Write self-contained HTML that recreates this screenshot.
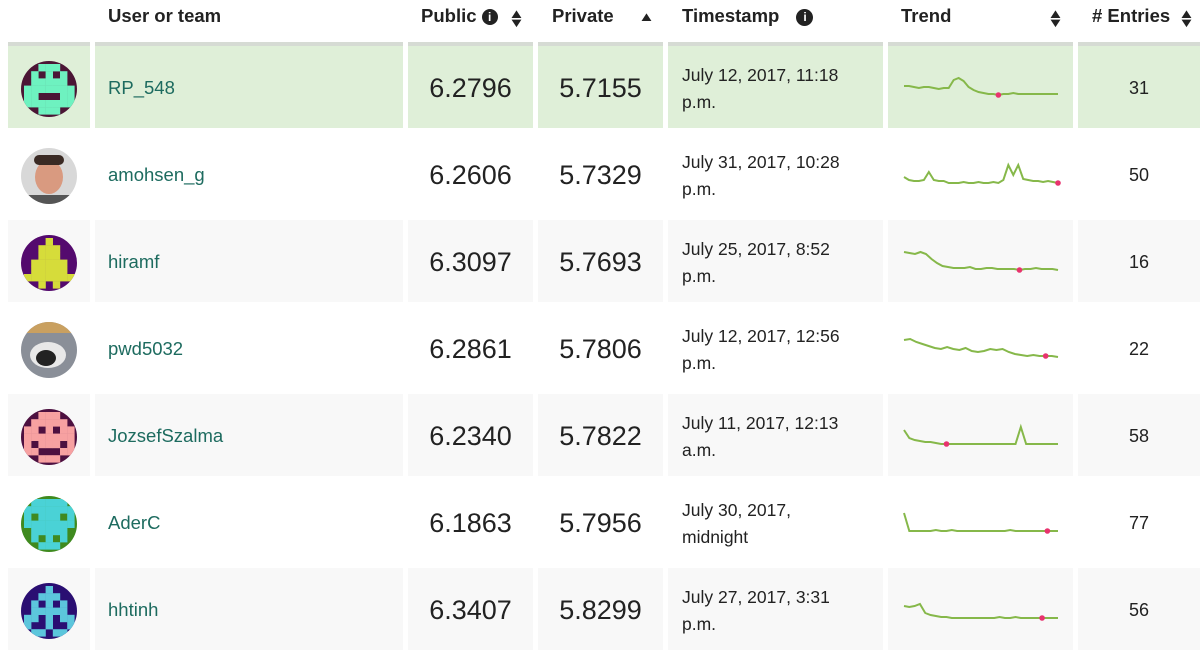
<!DOCTYPE html>
<html><head><meta charset="utf-8">
<style>
body{margin:0;width:1200px;height:662px;overflow:hidden;background:#fff;font-family:"Liberation Sans",sans-serif;position:relative;color:#222}
.h{position:absolute;top:5px;font-size:18.5px;font-weight:bold;color:#222;white-space:nowrap}
.c{position:absolute;box-sizing:border-box}
.name{font-size:18.5px;color:#1d6b5f;position:absolute;left:108px}
.num{font-size:27px;text-align:center;color:#222;position:absolute}
.ts{font-size:17.5px;line-height:27px;position:absolute;left:682px;color:#222}
.ent{font-size:18px;position:absolute;left:1078px;width:122px;text-align:center}
.srt{position:absolute;top:9px;font-size:13px;line-height:9px;transform:scaleX(1.3)}
</style></head><body>
<div class="h" style="left:108px">User or team</div>
<div class="h" style="left:421px">Public <span style="display:inline-block;width:16px;height:16px;border-radius:50%;background:#222;color:#fff;font-size:12px;text-align:center;line-height:16px;vertical-align:1px">i</span></div>
<div class="srt" style="left:510px">&#9650;<br>&#9660;</div>
<div class="h" style="left:552px">Private</div>
<div class="srt" style="left:640px;top:12px">&#9650;</div>
<div class="h" style="left:682px">Timestamp <span style="display:inline-block;width:17px;height:17px;border-radius:50%;background:#222;color:#fff;font-size:12px;text-align:center;line-height:17px;margin-left:12px;vertical-align:1px">i</span></div>
<div class="h" style="left:901px">Trend</div>
<div class="srt" style="left:1049px">&#9650;<br>&#9660;</div>
<div class="h" style="left:1092px"># Entries</div>
<div class="srt" style="left:1180px">&#9650;<br>&#9660;</div>
<div id="rows"></div>
<script>
const names=["RP_548","amohsen_g","hiramf","pwd5032","JozsefSzalma","AderC","hhtinh"];
const publicScores=["6.2796","6.2606","6.3097","6.2861","6.2340","6.1863","6.3407"];
const privateScores=["5.7155","5.7329","5.7693","5.7806","5.7822","5.7956","5.8299"];
const stamp1=["July 12, 2017, 11:18","July 31, 2017, 10:28","July 25, 2017, 8:52","July 12, 2017, 12:56","July 11, 2017, 12:13","July 30, 2017,","July 27, 2017, 3:31"];
const stamp2=["p.m.","p.m.","p.m.","p.m.","a.m.","midnight","p.m."];
const entries=["31","50","16","22","58","77","56"];
// trend values (height units above each row's baseline)
const trend0=[9,9,8,7,8,8,7,6,7,7,15,17,14,8,5,3,2,1,1,0,1,1,2,1,1,1,1,1,1,1,1,1];
const trend1=[6,3,2,2,3,11,3,2,2,0,0,0,1,0,0,1,0,0,1,0,3,18,8,18,4,3,2,2,1,2,1,0];
const trend2=[18,17,16,18,16,11,7,4,3,2,2,2,3,1,1,2,2,1,1,1,1,0,1,1,2,1,1,1,0];
const trend3=[17,18,15,13,11,9,8,10,8,7,9,6,5,6,8,7,8,5,3,2,1,2,1,1,1,0];
const trend4=[14,6,4,3,2,2,1,0,0,0,0,0,0,0,0,0,0,0,0,0,0,0,17,0,0,0,0,0,0,0];
const trend5=[18,0,0,0,0,0,1,0,0,1,0,0,0,0,0,0,0,0,0,0,1,0,0,0,0,0,0,0,0,0];
const trend6=[12,11,12,14,5,3,2,1,1,0,0,0,0,0,0,0,0,0,1,0,0,1,0,0,0,0,0,0,0,0];
const trends=[trend0,trend1,trend2,trend3,trend4,trend5,trend6];
const bestIdx=[19,31,21,23,8,27,26];
const avatarColors=[["#4b1535","#6ef2c0"],null,["#540a6e","#d6dc3a"],null,["#4d1040","#f7a1a1"],["#3f8a1f","#4ad2d6"],["#2a0e72","#5cc6dc"]];
const root=document.getElementById('rows');
const NS="http://www.w3.org/2000/svg";
function rowTop(i){return 42+87*i;}
function sx(j,n){return 904+154*j/(n-1);}
function sy(v,base){return base-v;}
for(let i=0;i<7;i++){
  const t=rowTop(i), cy=t+47;
  const bg=i===0?"#dfefd8":(i%2===0?"#f8f8f8":"#fff");
  const cols=[[8,82],[95,308],[408,125],[538,125],[668,215],[888,185],[1078,122]];
  cols.forEach(([x,w])=>{
    const d=document.createElement('div');d.className='c';
    
    
    d.style.cssText=`left:${x}px;top:${t+(i===0?0:4)}px;width:${w}px;height:${i===0?86:82}px;background:${bg};${i===0?'border-top:4px solid #d6dbd4':''}`;
    root.appendChild(d);
  });
  const av=document.createElementNS(NS,'svg');
  
  
  av.setAttribute('width','58');av.setAttribute('height','58');
  av.style.cssText=`position:absolute;left:20px;top:${cy-29}px`;
  const ac=avatarColors[i];
  let inner='<defs><clipPath id="cp'+i+'"><circle cx="29" cy="29" r="28"/></clipPath></defs>';
  if(ac){
    inner+=`<g clip-path="url(#cp${i})"><rect width="58" height="58" fill="${ac[0]}"/>`;
    const pats=[
      ["0011100","0101010","0111110","1111111","1100011","1111111","0011100"],
      null,
      ["0001000","0011100","0011100","0111110","0111110","1111111","0010100"],
      null,
      ["0011100","0111110","1101011","1111111","1011101","1100011","0011100"],
      ["0111110","1111111","1011101","1111111","0111110","0101010","0011100"],
      ["0001000","0011100","0101010","0111110","1101011","1001001","0110110"]][i];
    pats.forEach((r,y)=>[...r].forEach((c,x)=>{if(c==='1')inner+=`<rect x="${4+x*7.2}" y="${4+y*7.2}" width="7.4" height="7.4" fill="${ac[1]}"/>`;}));
    inner+='</g>';
  } else if(i===1){
    inner+=`<g clip-path="url(#cp1)"><rect width="58" height="58" fill="#d8d8d8"/><ellipse cx="29" cy="30" rx="14" ry="17" fill="#d99a80"/><rect x="14" y="8" width="30" height="10" rx="5" fill="#3a2a24"/><rect x="8" y="48" width="42" height="12" fill="#555"/></g>`;
  } else {
    inner+=`<g clip-path="url(#cp3)"><rect width="58" height="58" fill="#8a8f98"/><rect width="58" height="12" fill="#c9a060"/><ellipse cx="28" cy="34" rx="18" ry="13" fill="#e8e8e8"/><ellipse cx="26" cy="37" rx="10" ry="8" fill="#222"/></g>`;
  }
  av.innerHTML=inner;root.appendChild(av);
  const n=document.createElement('div');n.className='name';n.textContent=names[i];
  
  
  n.style.top=(cy-12)+'px';root.appendChild(n);
  const p=document.createElement('div');p.className='num';p.textContent=publicScores[i];
  
  
  p.style.cssText=`left:408px;width:125px;top:${cy-16}px`;root.appendChild(p);
  const q=document.createElement('div');q.className='num';q.textContent=privateScores[i];
  
  
  q.style.cssText=`left:538px;width:125px;top:${cy-16}px`;root.appendChild(q);
  const ts=document.createElement('div');ts.className='ts';ts.innerHTML=stamp1[i]+'<br>'+stamp2[i];
  
  
  ts.style.top=(cy-27)+'px';root.appendChild(ts);
  const e=document.createElement('div');e.className='ent';e.textContent=entries[i];
  
  
  e.style.top=(cy-11)+'px';root.appendChild(e);
  const base=cy+(i===0?6:7);
  const tr=trends[i];
  const svg=document.createElementNS(NS,'svg');
  
  
  svg.setAttribute('width','1200');svg.setAttribute('height','662');
  svg.style.cssText='position:absolute;left:0;top:0;pointer-events:none';
  const pl=document.createElementNS(NS,'polyline');
  
  
  pl.setAttribute('points',tr.map((v,j)=>sx(j,tr.length)+','+sy(v,base)).join(' '));
  pl.setAttribute('fill','none');pl.setAttribute('stroke','#86b84a');pl.setAttribute('stroke-width','2');
  svg.appendChild(pl);
  const b=bestIdx[i];
  const dot=document.createElementNS(NS,'circle');
  
  
  dot.setAttribute('cx',sx(b,tr.length));dot.setAttribute('cy',sy(tr[b],base));dot.setAttribute('r','2.8');dot.setAttribute('fill','#e8336e');
  svg.appendChild(dot);
  root.appendChild(svg);
}
</script>
</body></html>
